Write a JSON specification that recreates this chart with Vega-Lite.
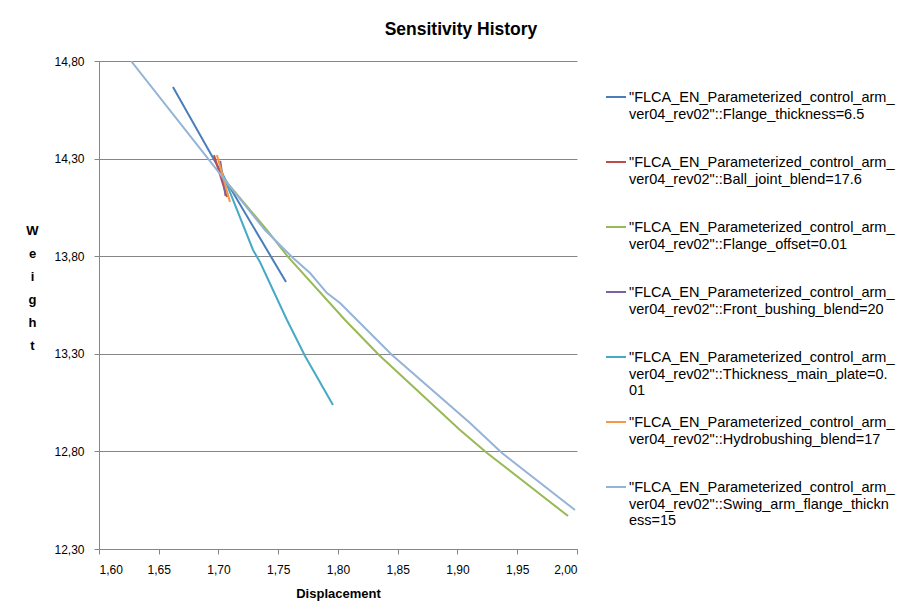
{
  "$schema": "https://vega.github.io/schema/vega-lite/v6.json",
  "autosize": {"type": "none"},
  "width": 478,
  "height": 488,
  "padding": {"left": 99, "top": 61, "right": 326, "bottom": 63},
  "background": "white",
  "title": {
    "text": "Sensitivity History",
    "font": "Liberation Sans",
    "fontSize": 17.5,
    "fontWeight": "bold",
    "color": "#000000",
    "anchor": "middle",
    "dx": 123,
    "offset": 17
  },
  "data": {
    "values": [
      {"s": "\"FLCA_EN_Parameterized_control_arm_ver04_rev02\"::Flange_thickness=6.5", "x": 1.6619, "y": 14.667},
      {"s": "\"FLCA_EN_Parameterized_control_arm_ver04_rev02\"::Flange_thickness=6.5", "x": 1.7054, "y": 14.195},
      {"s": "\"FLCA_EN_Parameterized_control_arm_ver04_rev02\"::Flange_thickness=6.5", "x": 1.7565, "y": 13.668},
      {"s": "\"FLCA_EN_Parameterized_control_arm_ver04_rev02\"::Ball_joint_blend=17.6", "x": 1.6962, "y": 14.318},
      {"s": "\"FLCA_EN_Parameterized_control_arm_ver04_rev02\"::Ball_joint_blend=17.6", "x": 1.7071, "y": 14.103},
      {"s": "\"FLCA_EN_Parameterized_control_arm_ver04_rev02\"::Flange_offset=0.01", "x": 1.7054, "y": 14.19},
      {"s": "\"FLCA_EN_Parameterized_control_arm_ver04_rev02\"::Flange_offset=0.01", "x": 1.7406, "y": 13.934},
      {"s": "\"FLCA_EN_Parameterized_control_arm_ver04_rev02\"::Flange_offset=0.01", "x": 1.7582, "y": 13.796},
      {"s": "\"FLCA_EN_Parameterized_control_arm_ver04_rev02\"::Flange_offset=0.01", "x": 1.8059, "y": 13.473},
      {"s": "\"FLCA_EN_Parameterized_control_arm_ver04_rev02\"::Flange_offset=0.01", "x": 1.8343, "y": 13.294},
      {"s": "\"FLCA_EN_Parameterized_control_arm_ver04_rev02\"::Flange_offset=0.01", "x": 1.9021, "y": 12.91},
      {"s": "\"FLCA_EN_Parameterized_control_arm_ver04_rev02\"::Flange_offset=0.01", "x": 1.9247, "y": 12.792},
      {"s": "\"FLCA_EN_Parameterized_control_arm_ver04_rev02\"::Flange_offset=0.01", "x": 1.9925, "y": 12.469},
      {"s": "\"FLCA_EN_Parameterized_control_arm_ver04_rev02\"::Front_bushing_blend=20", "x": 1.7014, "y": 14.288},
      {"s": "\"FLCA_EN_Parameterized_control_arm_ver04_rev02\"::Front_bushing_blend=20", "x": 1.7059, "y": 14.109},
      {"s": "\"FLCA_EN_Parameterized_control_arm_ver04_rev02\"::Thickness_main_plate=0.01", "x": 1.7029, "y": 14.231},
      {"s": "\"FLCA_EN_Parameterized_control_arm_ver04_rev02\"::Thickness_main_plate=0.01", "x": 1.7289, "y": 13.832},
      {"s": "\"FLCA_EN_Parameterized_control_arm_ver04_rev02\"::Thickness_main_plate=0.01", "x": 1.7347, "y": 13.77},
      {"s": "\"FLCA_EN_Parameterized_control_arm_ver04_rev02\"::Thickness_main_plate=0.01", "x": 1.7573, "y": 13.473},
      {"s": "\"FLCA_EN_Parameterized_control_arm_ver04_rev02\"::Thickness_main_plate=0.01", "x": 1.7724, "y": 13.289},
      {"s": "\"FLCA_EN_Parameterized_control_arm_ver04_rev02\"::Thickness_main_plate=0.01", "x": 1.7958, "y": 13.038},
      {"s": "\"FLCA_EN_Parameterized_control_arm_ver04_rev02\"::Hydrobushing_blend=17", "x": 1.6987, "y": 14.318},
      {"s": "\"FLCA_EN_Parameterized_control_arm_ver04_rev02\"::Hydrobushing_blend=17", "x": 1.7096, "y": 14.078},
      {"s": "\"FLCA_EN_Parameterized_control_arm_ver04_rev02\"::Swing_arm_flange_thickness=15", "x": 1.6268, "y": 14.8},
      {"s": "\"FLCA_EN_Parameterized_control_arm_ver04_rev02\"::Swing_arm_flange_thickness=15", "x": 1.7054, "y": 14.19},
      {"s": "\"FLCA_EN_Parameterized_control_arm_ver04_rev02\"::Swing_arm_flange_thickness=15", "x": 1.7389, "y": 13.934},
      {"s": "\"FLCA_EN_Parameterized_control_arm_ver04_rev02\"::Swing_arm_flange_thickness=15", "x": 1.7615, "y": 13.796},
      {"s": "\"FLCA_EN_Parameterized_control_arm_ver04_rev02\"::Swing_arm_flange_thickness=15", "x": 1.7766, "y": 13.714},
      {"s": "\"FLCA_EN_Parameterized_control_arm_ver04_rev02\"::Swing_arm_flange_thickness=15", "x": 1.7908, "y": 13.611},
      {"s": "\"FLCA_EN_Parameterized_control_arm_ver04_rev02\"::Swing_arm_flange_thickness=15", "x": 1.8017, "y": 13.56},
      {"s": "\"FLCA_EN_Parameterized_control_arm_ver04_rev02\"::Swing_arm_flange_thickness=15", "x": 1.8184, "y": 13.458},
      {"s": "\"FLCA_EN_Parameterized_control_arm_ver04_rev02\"::Swing_arm_flange_thickness=15", "x": 1.8452, "y": 13.294},
      {"s": "\"FLCA_EN_Parameterized_control_arm_ver04_rev02\"::Swing_arm_flange_thickness=15", "x": 1.9105, "y": 12.945},
      {"s": "\"FLCA_EN_Parameterized_control_arm_ver04_rev02\"::Swing_arm_flange_thickness=15", "x": 1.9372, "y": 12.792},
      {"s": "\"FLCA_EN_Parameterized_control_arm_ver04_rev02\"::Swing_arm_flange_thickness=15", "x": 1.9983, "y": 12.5}
    ]
  },
  "mark": {"type": "line", "strokeWidth": 2, "clip": true},
  "encoding": {
    "x": {
      "field": "x",
      "type": "quantitative",
      "scale": {"domain": [1.6, 2.0], "nice": false, "zero": false},
      "axis": {
        "title": "Displacement",
        "values": [1.6, 1.65, 1.7, 1.75, 1.8, 1.85, 1.9, 1.95, 2.0],
        "labelExpr": "replace(format(datum.value, '.2f'), '.', ',')",
        "grid": false,
        "domainColor": "#868686",
        "tickColor": "#868686",
        "tickSize": 5,
        "labelPadding": 10,
        "labelFont": "Liberation Sans",
        "labelFontSize": 12,
        "labelColor": "#000000",
        "titleFont": "Liberation Sans",
        "titleFontSize": 13,
        "titleFontWeight": "bold",
        "titleColor": "#000000",
        "titlePadding": 12
      }
    },
    "y": {
      "field": "y",
      "type": "quantitative",
      "scale": {"domain": [12.3, 14.8], "nice": false, "zero": false},
      "axis": {
        "title": ["W", "e", "i", "g", "h", "t"],
        "values": [12.3, 12.8, 13.3, 13.8, 14.3, 14.8],
        "labelExpr": "replace(format(datum.value, '.2f'), '.', ',')",
        "grid": true,
        "gridColor": "#868686",
        "gridWidth": 1,
        "domainColor": "#868686",
        "tickColor": "#868686",
        "tickSize": 5,
        "labelPadding": 10,
        "labelFont": "Liberation Sans",
        "labelFontSize": 12,
        "labelColor": "#000000",
        "titleFont": "Liberation Sans",
        "titleFontSize": 13,
        "titleFontWeight": "bold",
        "titleColor": "#000000",
        "titleAngle": 0,
        "titleAlign": "center",
        "titleBaseline": "middle",
        "titleLineHeight": 23,
        "titleX": -67,
        "titleY": 169
      }
    },
    "color": {
      "field": "s",
      "type": "nominal",
      "scale": {
        "domain": [
          "\"FLCA_EN_Parameterized_control_arm_ver04_rev02\"::Flange_thickness=6.5",
          "\"FLCA_EN_Parameterized_control_arm_ver04_rev02\"::Ball_joint_blend=17.6",
          "\"FLCA_EN_Parameterized_control_arm_ver04_rev02\"::Flange_offset=0.01",
          "\"FLCA_EN_Parameterized_control_arm_ver04_rev02\"::Front_bushing_blend=20",
          "\"FLCA_EN_Parameterized_control_arm_ver04_rev02\"::Thickness_main_plate=0.01",
          "\"FLCA_EN_Parameterized_control_arm_ver04_rev02\"::Hydrobushing_blend=17",
          "\"FLCA_EN_Parameterized_control_arm_ver04_rev02\"::Swing_arm_flange_thickness=15"
        ],
        "range": ["#4A7EBB", "#BE4B48", "#98B954", "#7D60A0", "#46AAC5", "#F79646", "#95B3D7"]
      },
      "legend": {
        "title": null,
        "orient": "none",
        "legendX": 506,
        "legendY": 25,
        "symbolType": "stroke",
        "symbolSize": 400,
        "symbolStrokeWidth": 2,
        "labelFont": "Liberation Sans",
        "labelFontSize": 14.5,
        "labelColor": "#000000",
        "labelLimit": 400,
        "labelLineHeight": 20,
        "labelBaseline": "alphabetic",
        "labelOffset": 2,
        "gridAlign": "all",
        "rowPadding": 13,
        "labelExpr": "length(datum.label) > 72 ? [slice(datum.label, 0, 35), slice(datum.label, 35, 72), slice(datum.label, 72)] : [slice(datum.label, 0, 35), slice(datum.label, 35)]",
        "encode": {"labels": {"update": {"dy": {"value": 5}}}}
      }
    }
  },
  "config": {
    "view": {"stroke": null}
  }
}
